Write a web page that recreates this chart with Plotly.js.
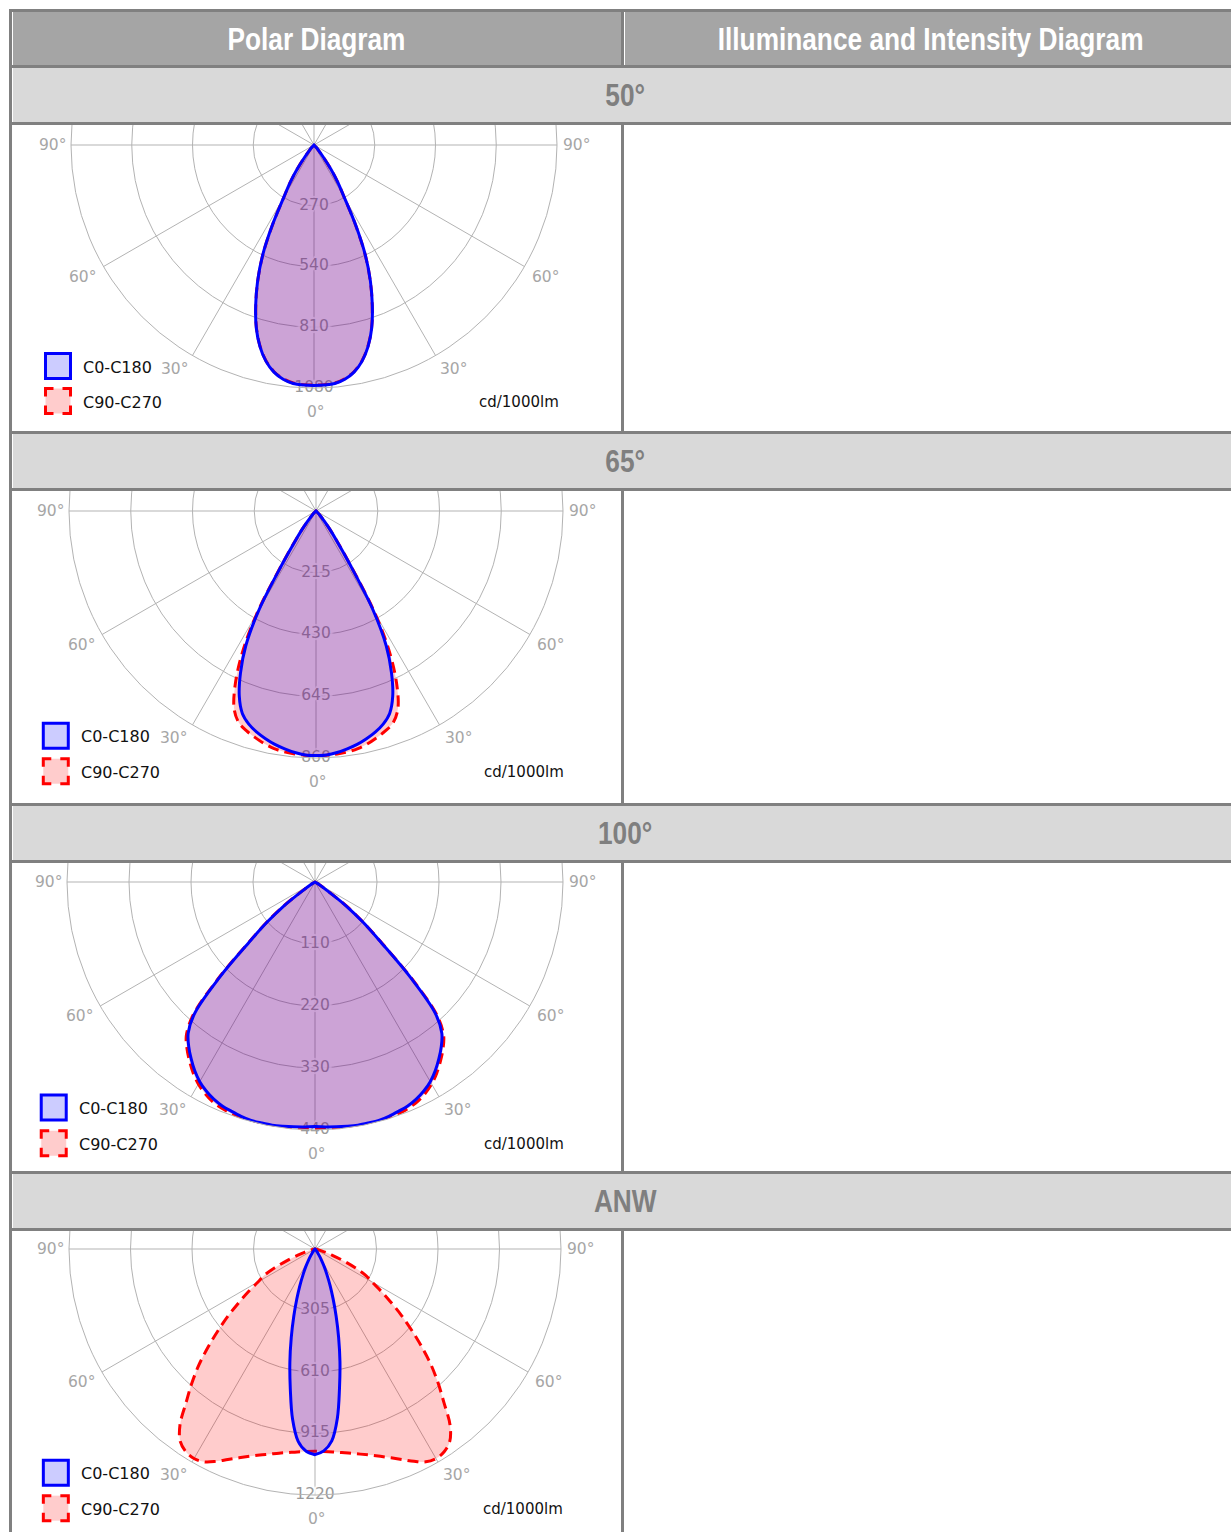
<!DOCTYPE html>
<html>
<head>
<meta charset="utf-8">
<script src="https://cdn.plot.ly/plotly-3.0.1.min.js"></script>
<style>
html,body{margin:0;padding:0;overflow:hidden;background:#fff;width:1231px;height:1532px;}
#root{position:absolute;left:0;top:0;width:1231px;height:1532px;overflow:hidden;}
.abs{position:absolute;box-sizing:border-box;}
.frame{background:#808080;}
.hdr{background:#a5a5a5;box-shadow:inset 1px 0 0 #fff;display:flex;align-items:center;justify-content:center;}
.sec{background:#d9d9d9;box-shadow:inset 1px 0 0 #fff;display:flex;align-items:center;justify-content:center;}
.cell{background:#fff;overflow:hidden;}
.narrow{display:inline-block;font-family:"Liberation Sans",Arial,sans-serif;font-weight:bold;font-size:32px;transform:scaleX(0.82);white-space:nowrap;line-height:1;}
.hdr .narrow{color:#fff;}
.sec .narrow{color:#7f7f7f;}
</style>
</head>
<body>
<div id="root"></div>
<script>
// ---------- text ----------
const headers = ['Polar Diagram', 'Illuminance and Intensity Diagram'];
const sections = ['50°', '65°', '100°', 'ANW'];
const seriesNames = ['C0-C180', 'C90-C270'];
const unitLabel = 'cd/1000lm';

// ---------- angles (gamma, degrees from nadir) ----------
const gamma = [0,2.5,5,7.5,10,12.5,15,17.5,20,22.5,25,27.5,30,32.5,35,37.5,40,42.5,45,47.5,50,52.5,55,57.5,60,62.5,65,67.5,70,72.5,75,77.5,80,82.5,85,87.5,90];
const angGridVals = [0,30,60,90,120,150,180,210,240,270,300,330];
const angLabelText = ['0°', '30°', '60°', '90°', '30°', '60°', '90°'];

// ---------- radial ticks ----------
const ticks50  = [270, 540, 810, 1080];
const ticks65  = [215, 430, 645, 860];
const ticks100 = [110, 220, 330, 440];
const ticksANW = [305, 610, 915, 1220];

// ---------- intensities cd/1000lm ----------
const p50_C0    = [1069,1068,1064,1050,1025,985,928,853,758,655,540,400,270,198,128,66,30,14,6,2,0,0,0,0,0,0,0,0,0,0,0,0,0,0,0,0,0];
const p50_C180  = [1069,1068,1064,1050,1025,985,928,853,758,655,540,400,270,198,128,66,30,14,6,2,0,0,0,0,0,0,0,0,0,0,0,0,0,0,0,0,0];
const p50_C90   = [1067,1066,1062,1048,1023,983,926,851,756,653,538,398,268,197,127,65,30,14,6,2,0,0,0,0,0,0,0,0,0,0,0,0,0,0,0,0,0];
const p50_C270  = [1067,1066,1062,1048,1023,983,926,851,756,653,538,398,268,197,127,65,30,14,6,2,0,0,0,0,0,0,0,0,0,0,0,0,0,0,0,0,0];

const p65_C0    = [851,850,844,835,825,812,797,778,750,698,622,530,395,215,122,72,35,18,8,3,0,0,0,0,0,0,0,0,0,0,0,0,0,0,0,0,0];
const p65_C180  = [851,850,844,835,825,812,797,778,750,698,622,530,395,215,122,72,35,18,8,3,0,0,0,0,0,0,0,0,0,0,0,0,0,0,0,0,0];
const p65_C90   = [852,851,849,846,840,830,817,803,785,745,665,555,408,222,124,72,35,18,8,3,0,0,0,0,0,0,0,0,0,0,0,0,0,0,0,0,0];
const p65_C270  = [852,851,849,846,840,830,817,803,785,745,665,555,408,222,124,72,35,18,8,3,0,0,0,0,0,0,0,0,0,0,0,0,0,0,0,0,0];

const p100_C0   = [434,435,436,437,438,438,438,436,433,430,425,418,409,397,383,368,350,316,240,160,112,70,25,10,4,1,0,0,0,0,0,0,0,0,0,0,0];
const p100_C180 = [434,435,436,437,438,438,438,436,433,430,425,418,409,397,383,368,350,316,240,160,112,70,25,10,4,1,0,0,0,0,0,0,0,0,0,0,0];
const p100_C90  = [437,438,439,440,441,441,441,440,437,434,430,423,414,402,388,373,355,320,244,163,114,72,26,10,4,1,0,0,0,0,0,0,0,0,0,0,0];
const p100_C270 = [437,438,439,440,441,441,441,440,437,434,430,423,414,402,388,373,355,320,244,163,114,72,26,10,4,1,0,0,0,0,0,0,0,0,0,0,0];

const pANW_C0   = [1020,1002,955,848,700,572,452,348,262,195,140,100,65,42,25,15,8,5,3,1,0,0,0,0,0,0,0,0,0,0,0,0,0,0,0,0,0];
const pANW_C180 = [1020,1004,958,852,705,576,455,350,264,196,140,100,65,42,25,15,8,5,3,1,0,0,0,0,0,0,0,0,0,0,0,0,0,0,0,0,0];
const pANW_C90  = [1003,1005,1010,1018,1028,1042,1058,1078,1102,1130,1162,1190,1200,1192,1165,1100,995,905,815,718,625,540,458,388,325,285,220,150,90,55,30,16,8,4,2,1,0];
const pANW_C270 = [1003,1005,1010,1018,1028,1042,1058,1078,1102,1130,1162,1190,1200,1192,1165,1100,995,905,815,718,625,540,458,388,325,285,220,150,90,55,30,16,8,4,2,1,0];

// ---------- layout geometry ----------
const panels = [
  {ticks: ticks50,  a: p50_C0,  b: p50_C180,  c: p50_C90,  d: p50_C270,  top: 125,  h: 306, cx: 302, cy: 20, R: 243},
  {ticks: ticks65,  a: p65_C0,  b: p65_C180,  c: p65_C90,  d: p65_C270,  top: 491,  h: 312, cx: 304, cy: 20, R: 247},
  {ticks: ticks100, a: p100_C0, b: p100_C180, c: p100_C90, d: p100_C270, top: 863,  h: 308, cx: 303, cy: 19, R: 248},
  {ticks: ticksANW, a: pANW_C0, b: pANW_C180, c: pANW_C90, d: pANW_C270, top: 1231, h: 310, cx: 303, cy: 18, R: 246}
];
const sectionTops = [68, 434, 806, 1174];
// placement of the angle labels around the outer circle: [angle from nadir (+ = left), gap beyond circle]
const angLabelPlace = [[0, 24, 2], [32, 21, 0], [60.3, 23, 0], [90, 19, 0], [-32, 21, 0], [-60.3, 23, 0], [-90, 19, 0]];

const root = document.getElementById('root');
function box(x, y, w, h, cls) {
  const d = document.createElement('div');
  d.className = 'abs ' + cls;
  d.style.left = x + 'px'; d.style.top = y + 'px';
  d.style.width = w + 'px'; d.style.height = h + 'px';
  root.appendChild(d);
  return d;
}
function label(parent, txt) {
  const s = document.createElement('span');
  s.className = 'narrow';
  s.textContent = txt;
  parent.appendChild(s);
}

box(9, 9, 1240, 1540, 'frame');
label(box(12, 12, 609, 53, 'hdr'), headers[0]);
label(box(624, 12, 613, 53, 'hdr'), headers[1]);

const GRID = '#b3b3b3';
const FONT = 'DejaVu Sans, Verdana, sans-serif';

panels.forEach((p, i) => {
  label(box(12, sectionTops[i], 1226, 54, 'sec'), sections[i]);
  const cell = box(12, p.top, 609, p.h, 'cell');
  box(624, p.top, 613, p.h, 'cell');

  const W = 609, mt = 40, mb = 60;
  let ml = 0, mr = 0;
  if (2 * p.cx < W) mr = W - 2 * p.cx; else ml = 2 * p.cx - W;
  const ph = 2 * p.R, pw = W - ml - mr;
  const divTop = p.cy - p.R - mt;
  const div = document.createElement('div');
  div.style.position = 'absolute';
  div.style.left = '0px';
  div.style.top = divTop + 'px';
  div.style.width = W + 'px';
  div.style.height = (mt + ph + mb) + 'px';
  cell.appendChild(div);

  const px = x => (x - ml) / pw;
  const py = y => 1 - (y - divTop - mt) / ph;
  const k = p.R / 243;
  const rmax = p.ticks[p.ticks.length - 1];

  const thetaFull = gamma.slice().reverse().map(g => -g).concat(gamma);
  const rC0C180 = p.a.slice().reverse().concat(p.b);
  const rC90C270 = p.d.slice().reverse().concat(p.c);

  const shadow = '2px 0 1px #fff, -2px 0 1px #fff, 0 2px 1px #fff, 0 -2px 1px #fff, 3px 0 2px #fff, -3px 0 2px #fff';
  const data = [
    {type: 'scatterpolar', mode: 'text', r: p.ticks, theta: p.ticks.map(() => 0),
     text: p.ticks.map(String), textposition: 'middle center', cliponaxis: false,
     textfont: {family: FONT, size: 15.5, color: '#9a9a9a', shadow: shadow},
     showlegend: false, hoverinfo: 'skip'},
    {type: 'scatterpolar', mode: 'lines', name: seriesNames[1], r: rC90C270, theta: thetaFull,
     fill: 'toself', fillcolor: 'rgba(255,0,0,0.2)',
     line: {color: '#ff0000', width: 3, dash: '11px,6px', shape: 'spline', smoothing: 1},
     showlegend: false, hoverinfo: 'skip'},
    {type: 'scatterpolar', mode: 'lines', name: seriesNames[0], r: rC0C180, theta: thetaFull,
     fill: 'toself', fillcolor: 'rgba(0,0,255,0.2)',
     line: {color: '#0000ff', width: 3, shape: 'spline', smoothing: 1},
     showlegend: false, hoverinfo: 'skip'}
  ];

  const sq = 25;
  const sx = p.cx - 256 * k, s1y = p.cy + 221 * k, s2y = p.cy + 256 * k;
  const shapes = [
    {type: 'rect', xref: 'paper', yref: 'paper', layer: 'above',
     x0: px(sx - sq / 2), x1: px(sx + sq / 2), y0: py(s1y + sq / 2), y1: py(s1y - sq / 2),
     line: {color: '#0000ff', width: 3}, fillcolor: '#ccccff'},
    {type: 'rect', xref: 'paper', yref: 'paper', layer: 'above',
     x0: px(sx - sq / 2), x1: px(sx + sq / 2), y0: py(s2y + sq / 2), y1: py(s2y - sq / 2),
     line: {color: '#ff0000', width: 3, dash: '8px,9px,16px,9px,16px,9px,16px,9px,8px'}, fillcolor: '#ffcccc'}
  ];
  const annotations = [
    {text: seriesNames[0], xref: 'paper', yref: 'paper', x: px(sx + 23), y: py(s1y + 1), xanchor: 'left', yanchor: 'middle',
     showarrow: false, font: {family: FONT, size: 16, color: '#111'}},
    {text: seriesNames[1], xref: 'paper', yref: 'paper', x: px(sx + 23), y: py(s2y + 1), xanchor: 'left', yanchor: 'middle',
     showarrow: false, font: {family: FONT, size: 16, color: '#111'}},
    {text: unitLabel, xref: 'paper', yref: 'paper', x: px(p.cx + 205 * k), y: py(p.cy + 257 * k), xanchor: 'center', yanchor: 'middle',
     showarrow: false, font: {family: FONT, size: 15, color: '#111'}}
  ];
  angLabelPlace.forEach((pl, j) => {
    const a = pl[0] * Math.PI / 180, rr = p.R + pl[1];
    annotations.push({text: angLabelText[j], xref: 'paper', yref: 'paper',
      x: px(p.cx - rr * Math.sin(a) + pl[2]), y: py(p.cy + rr * Math.cos(a)),
      xanchor: 'center', yanchor: 'middle', showarrow: false,
      font: {family: FONT, size: 15.5, color: '#a6a6a6'}});
  });

  const layout = {
    width: W, height: mt + ph + mb,
    margin: {l: ml, r: mr, t: mt, b: mb, pad: 0},
    paper_bgcolor: 'rgba(0,0,0,0)',
    showlegend: false,
    polar: {
      domain: {x: [0, 1], y: [0, 1]},
      bgcolor: 'rgba(0,0,0,0)',
      sector: [0, 360],
      angularaxis: {rotation: 270, direction: 'clockwise', tickmode: 'array',
        tickvals: angGridVals, showticklabels: false, ticks: '',
        showline: true, linecolor: GRID, linewidth: 1, gridcolor: GRID, gridwidth: 1},
      radialaxis: {range: [0, rmax], tickmode: 'array', tickvals: p.ticks,
        showticklabels: false, showline: false, ticks: '', gridcolor: GRID, gridwidth: 1, angle: 0}
    },
    shapes: shapes,
    annotations: annotations
  };
  Plotly.newPlot(div, data, layout, {displayModeBar: false, staticPlot: true});
});
</script>
</body>
</html>
